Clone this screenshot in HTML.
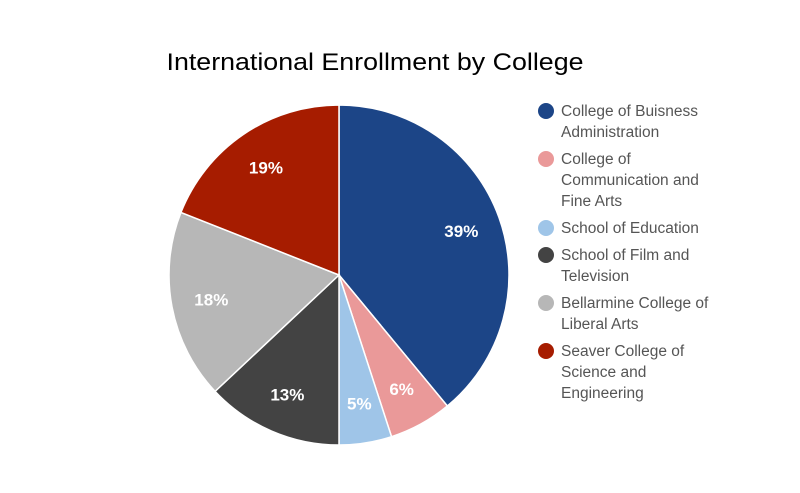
<!DOCTYPE html>
<html><head><meta charset="utf-8"><style>
html,body{margin:0;padding:0;background:#fff;}
svg{display:block;font-family:"Liberation Sans",sans-serif;}
</style></head><body>
<svg id="chart" width="800" height="493" viewBox="0 0 800 493">
<text x="375" y="70" text-anchor="middle" font-size="24" fill="#000" textLength="417" lengthAdjust="spacingAndGlyphs">International Enrollment by College</text>
<g id="slices"></g>
<g id="labels"></g>
<g id="legend"></g>
</svg>
<script>
const categories = [["College of Buisness","Administration"],["College of","Communication and","Fine Arts"],["School of Education"],["School of Film and","Television"],["Bellarmine College of","Liberal Arts"],["Seaver College of","Science and","Engineering"]];
const values = [39, 6, 5, 13, 18, 19];
const labelTexts = ["39%","6%","5%","13%","18%","19%"];
const colors = ["#1c4587","#ea9999","#9fc5e8","#434343","#b7b7b7","#a61c00"];
const NS="http://www.w3.org/2000/svg";
const cx=339, cy=275, r=170, lr=130;
const total=values.reduce((a,b)=>a+b,0);
function pt(frac,rad){const a=frac*2*Math.PI;return [cx+rad*Math.sin(a), cy-rad*Math.cos(a)];}
let acc=0;
const sg=document.getElementById('slices'), lg=document.getElementById('labels'), leg=document.getElementById('legend');
values.forEach((v,i)=>{
  const f0=acc/total, f1=(acc+v)/total; acc+=v;
  const [x0,y0]=pt(f0,r), [x1,y1]=pt(f1,r);
  const p=document.createElementNS(NS,'path');
  p.setAttribute('d',`M${cx},${cy}L${x0},${y0}A${r},${r} 0 ${f1-f0>0.5?1:0} 1 ${x1},${y1}Z`);
  p.setAttribute('fill',colors[i]);p.setAttribute('stroke','#fff');p.setAttribute('stroke-width','1.5');
  
  
  sg.appendChild(p);
  const [lx,ly]=pt((f0+f1)/2,lr);
  const t=document.createElementNS(NS,'text');
  t.setAttribute('x',lx);t.setAttribute('y',ly+6);t.setAttribute('text-anchor','middle');
  t.setAttribute('font-size','17');t.setAttribute('font-weight','bold');t.setAttribute('fill','#fff');
  t.textContent=labelTexts[i];
  
  
  lg.appendChild(t);
});
let y=111;
categories.forEach((lines,i)=>{
  const g=document.createElementNS(NS,'g');
  
  
  const c=document.createElementNS(NS,'circle');
  c.setAttribute('cx',546);c.setAttribute('cy',y);c.setAttribute('r',8);c.setAttribute('fill',colors[i]);
  
  
  g.appendChild(c);
  lines.forEach((ln,j)=>{
    const t=document.createElementNS(NS,'text');
    t.setAttribute('x',561);t.setAttribute('y',y+5+j*21);t.setAttribute('font-size','15.5');t.setAttribute('fill','#555');
    t.textContent=ln;
    
    
    g.appendChild(t);
  });
  leg.appendChild(g);
  y+=lines.length*21+6;
});
</script>
</body></html>
